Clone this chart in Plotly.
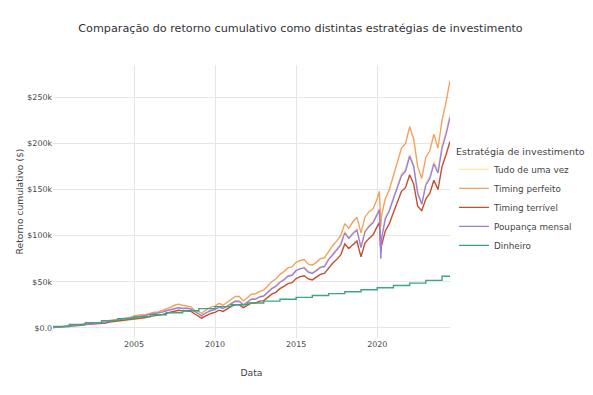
import plotly.graph_objects as go

dates = [
    "2000-01-03", "2000-04-01", "2000-07-01", "2000-10-01",
    "2001-01-01", "2001-04-01", "2001-07-01", "2001-10-01",
    "2002-01-01", "2002-04-01", "2002-07-01", "2002-10-01",
    "2003-01-01", "2003-04-01", "2003-07-01", "2003-10-01",
    "2004-01-01", "2004-04-01", "2004-07-01", "2004-10-01",
    "2005-01-01", "2005-04-01", "2005-07-01", "2005-10-01",
    "2006-01-01", "2006-04-01", "2006-07-01", "2006-10-01",
    "2007-01-01", "2007-04-01", "2007-07-01", "2007-10-01",
    "2008-01-01", "2008-04-01", "2008-07-01", "2008-10-01",
    "2009-01-01", "2009-03-09", "2009-04-01", "2009-07-01", "2009-10-01",
    "2010-01-01", "2010-04-01", "2010-07-01", "2010-10-01",
    "2011-01-01", "2011-04-01", "2011-07-01", "2011-10-01",
    "2012-01-01", "2012-04-01", "2012-07-01", "2012-10-01",
    "2013-01-01", "2013-04-01", "2013-07-01", "2013-10-01",
    "2014-01-01", "2014-04-01", "2014-07-01", "2014-10-01",
    "2015-01-01", "2015-04-01", "2015-07-01", "2015-10-01",
    "2016-01-01", "2016-04-01", "2016-07-01", "2016-10-01",
    "2017-01-01", "2017-04-01", "2017-07-01", "2017-10-01",
    "2018-01-01", "2018-04-01", "2018-07-01", "2018-10-01",
    "2019-01-01", "2019-04-01", "2019-07-01", "2019-10-01",
    "2020-01-01", "2020-02-19", "2020-03-23", "2020-04-01", "2020-07-01", "2020-10-01",
    "2021-01-01", "2021-04-01", "2021-07-01", "2021-10-01",
    "2022-01-01", "2022-04-01", "2022-07-01", "2022-10-01",
    "2023-01-01", "2023-04-01", "2023-07-01", "2023-10-01",
    "2024-01-01", "2024-04-01", "2024-06-28",
]

timing_perfeito = [
    0.2, 0.8, 1.3, 1.9, 2.4, 2.9, 3.4, 3.6, 4.6, 4.9, 4.8, 5.2,
    6.2, 6.6, 8.0, 8.7, 10.0, 10.3, 10.6, 11.4, 13.0, 13.2, 14.2, 14.6,
    16.2, 17.0, 17.2, 18.8, 20.8, 22.2, 24.5, 25.7, 24.5, 24.0, 22.8, 19.0,
    17.5, 15.5, 17.0, 20.0, 22.5, 23.5, 26.5, 24.5, 28.0,
    31.5, 34.0, 34.0, 29.0, 33.0, 36.5, 37.0, 39.5,
    41.0, 46.0, 50.0, 53.0, 58.0, 61.0, 65.0, 66.0,
    71.0, 73.0, 74.0, 69.0, 68.0, 71.0, 75.0, 76.0,
    83.0, 89.0, 94.0, 100.0, 113.0, 108.0, 115.0, 120.0,
    103.0, 120.0, 126.0, 129.0, 140.0, 148.0, 110.0, 120.0, 140.0, 150.0,
    165.0, 180.0, 195.0, 200.0, 218.0, 205.0, 175.0, 162.0,
    185.0, 192.0, 210.0, 195.0, 225.0, 245.0, 268.0,
]

poupanca_mensal = [
    0.2, 0.6, 1.2, 1.7, 2.2, 2.6, 3.1, 3.3, 4.2, 4.5, 4.4, 4.8,
    5.7, 6.1, 7.3, 8.0, 9.2, 9.5, 9.8, 10.5, 12.0, 12.2, 13.0, 13.4,
    14.8, 15.5, 15.7, 17.0, 18.5, 19.6, 21.2, 21.8, 21.0, 21.2, 20.4, 17.2,
    15.0, 12.8, 14.2, 16.8, 18.8, 19.8, 22.5, 21.0, 23.8,
    26.8, 28.8, 28.6, 25.0, 28.0, 31.0, 31.0, 33.5,
    34.5, 39.0, 42.5, 45.0, 49.5, 52.0, 56.0, 57.0,
    62.0, 64.0, 65.0, 60.5, 59.0, 62.0, 65.5, 66.5,
    74.0, 79.0, 84.0, 90.0, 103.0, 97.0, 102.0, 106.0,
    87.0, 104.0, 110.0, 114.0, 123.0, 128.0, 75.0, 95.0, 118.0, 127.0,
    140.0, 153.0, 165.0, 170.0, 186.0, 175.0, 146.0, 134.0,
    155.0, 162.0, 178.0, 168.0, 195.0, 210.0, 228.0,
]

tudo_de_uma_vez = [
    0.2, 0.6, 1.2, 1.7, 2.2, 2.6, 3.1, 3.4, 4.3, 4.6, 4.5, 4.9,
    5.8, 6.2, 7.4, 8.1, 9.4, 9.7, 10.0, 10.7, 12.2, 12.4, 13.2, 13.6,
    15.0, 15.8, 16.0, 17.3, 18.8, 19.9, 21.5, 22.1, 21.3, 21.5, 20.7, 17.5,
    15.3, 13.1, 14.5, 17.1, 19.1, 20.1, 22.9, 21.4, 24.2,
    27.2, 29.3, 29.1, 25.4, 28.5, 31.5, 31.5, 34.0,
    35.0, 39.6, 43.1, 45.7, 50.2, 52.8, 56.8, 57.9,
    62.9, 65.0, 66.0, 61.4, 59.9, 62.9, 66.5, 67.5,
    75.1, 80.2, 85.3, 91.4, 104.6, 98.5, 103.5, 107.6,
    88.3, 105.6, 111.7, 115.7, 124.8, 130.0, 76.1, 96.4, 119.8, 128.9,
    142.1, 155.3, 167.5, 172.6, 188.8, 177.6, 148.2, 136.0,
    157.3, 164.4, 180.7, 170.5, 197.9, 213.2, 231.4,
]

timing_terrivel = [
    0.2, 0.5, 0.9, 1.3, 1.8, 2.2, 2.6, 2.8, 3.6, 3.9, 3.7, 4.0,
    4.8, 5.2, 6.3, 6.8, 7.9, 8.1, 8.3, 8.9, 9.8, 10.0, 10.9, 11.2,
    12.4, 13.0, 13.2, 14.4, 15.8, 16.8, 18.3, 19.0, 18.4, 18.6, 18.0, 15.0,
    12.5, 10.3, 11.5, 13.8, 15.6, 16.8, 19.2, 17.8, 20.6,
    23.2, 25.0, 25.0, 22.0, 24.5, 27.0, 27.0, 29.0,
    29.5, 33.5, 36.5, 38.5, 42.5, 45.0, 48.0, 49.0,
    53.5, 55.5, 56.5, 53.0, 52.0, 55.0, 58.0, 59.0,
    65.0, 70.0, 74.0, 79.0, 91.0, 86.0, 90.0, 94.0,
    77.0, 92.0, 97.0, 101.0, 110.0, 114.0, 82.0, 88.0, 105.0, 113.0,
    125.0, 137.0, 148.0, 152.0, 166.0, 156.0, 132.0, 127.0,
    140.0, 146.0, 160.0, 150.0, 175.0, 188.0, 202.0,
]

cash_dates = [
    "2000-01-03", "2001-01-01", "2002-01-01", "2003-01-01", "2004-01-01",
    "2005-01-01", "2006-01-01", "2007-01-01", "2008-01-01", "2009-01-01",
    "2010-01-01", "2011-01-01", "2012-01-01", "2013-01-01", "2014-01-01",
    "2015-01-01", "2016-01-01", "2017-01-01", "2018-01-01", "2019-01-01",
    "2020-01-01", "2021-01-01", "2022-01-01", "2023-01-01", "2024-01-01",
    "2024-06-28",
]
dinheiro = [
    1.5, 3.6, 5.7, 7.8, 9.9, 12.0, 14.2, 16.4, 18.6, 20.8,
    23.0, 25.0, 27.0, 29.0, 31.0, 33.0, 35.0, 37.1, 39.2, 41.3,
    43.5, 46.0, 48.5, 51.5, 56.0, 56.0,
]

series = [
    ("Tudo de uma vez", dates, tudo_de_uma_vez, "#FDE7A6", "linear"),
    ("Timing perfeito", dates, timing_perfeito, "#F4A15D", "linear"),
    ("Timing terrível", dates, timing_terrivel, "#C24F2C", "linear"),
    ("Poupança mensal", dates, poupanca_mensal, "#9A7FDD", "linear"),
    ("Dinheiro", cash_dates, dinheiro, "#3DA57F", "hv"),
]

fig = go.Figure()
for name, x, y, color, shape in series:
    fig.add_trace(go.Scatter(
        x=x, y=[v * 1000 for v in y], mode="lines", name=name,
        line=dict(color=color, width=1.4, shape=shape),
    ))

grid = "#E6E6E6"
fig.update_layout(
    template="plotly_white",
    width=585, height=387,
    margin=dict(l=45, r=143, t=57, b=57, autoexpand=False),
    font=dict(family="DejaVu Sans", size=8, color="#444"),
    title=dict(text="Comparação do retorno cumulativo como distintas estratégias de investimento",
               x=0.5, xanchor="center", y=0.948, yanchor="middle",
               font=dict(size=11.2, color="#333")),
    legend=dict(title=dict(text="Estratégia de investimento", font=dict(size=9.5)),
                x=1.01, xanchor="left", y=0.5, yanchor="middle", font=dict(size=8.8)),
    xaxis=dict(title=dict(text="Data", font=dict(size=9.2), standoff=21),
               range=["2000-01-03", "2024-06-28"],
               tickfont=dict(size=7.9), gridcolor=grid, automargin=True),
    yaxis=dict(title=dict(text="Retorno cumulativo ($)", font=dict(size=9.2), standoff=2),
               tickprefix="$", tickformat=".2s", dtick=50000, range=[-11000, 285000],
               tickfont=dict(size=7.9), zeroline=False, gridcolor=grid, automargin=True),
)

fig.write_html("out.html")
